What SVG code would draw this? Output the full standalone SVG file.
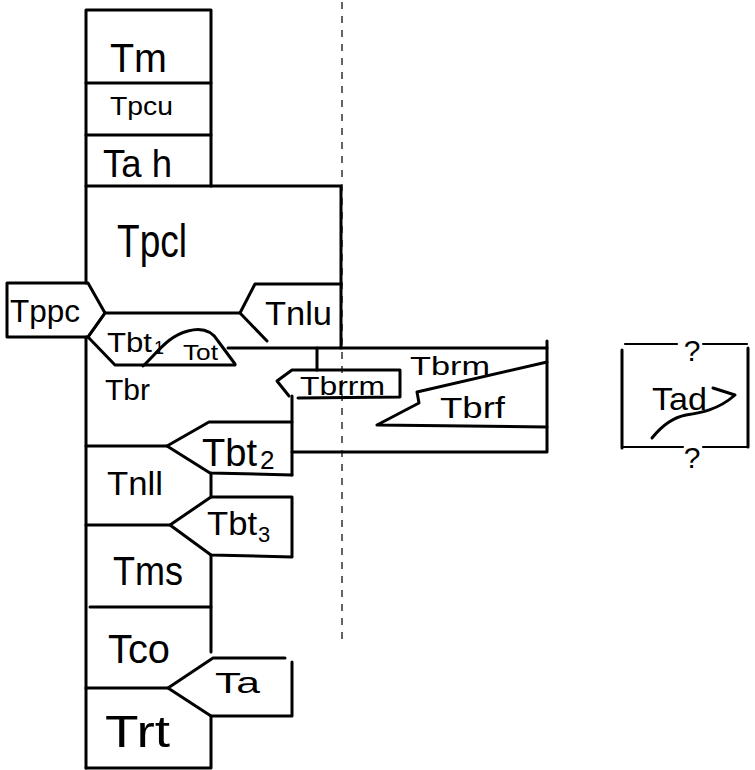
<svg xmlns="http://www.w3.org/2000/svg" width="755" height="770" viewBox="0 0 755 770">
<style>
.ln{fill:none;stroke:#000;stroke-width:3;stroke-linecap:round;stroke-linejoin:round}
.th{fill:none;stroke:#000;stroke-width:2.2;stroke-linecap:round;stroke-linejoin:round}
.dash{fill:none;stroke:#222;stroke-width:1.4;stroke-dasharray:7 7}
text{font-family:"Liberation Sans",Arial,sans-serif;fill:#000}
.q{font-size:30px;text-anchor:middle}
</style>
<rect width="755" height="770" fill="#fff"/>
<line class="dash" x1="342" y1="2" x2="342" y2="645"/>
<g id="Tm">
<polyline class="ln" points="86,186 86,10 211,10 211,186"/>
<line class="ln" x1="86" y1="83" x2="211" y2="83"/>
<text x="110" y="72" font-size="40" textLength="57" lengthAdjust="spacingAndGlyphs">Tm</text>
</g>
<g id="Tpcu">
<line class="ln" x1="86" y1="135" x2="211" y2="135"/>
<text x="110" y="115" font-size="25" textLength="63" lengthAdjust="spacingAndGlyphs">Tpcu</text>
</g>
<g id="Tah">
<text x="103" y="177" font-size="38" textLength="69" lengthAdjust="spacingAndGlyphs">Ta h</text>
</g>
<g id="Tpcl">
<polyline class="ln" points="86,283 86,186 341,186 341,348"/>
<line class="ln" x1="105" y1="313" x2="240" y2="313"/>
<text x="117" y="257" font-size="46" textLength="70" lengthAdjust="spacingAndGlyphs">Tpcl</text>
</g>
<g id="Tppc">
<polygon class="ln" points="7,283 88,283 105,313 88,337 7,337"/>
<text x="10" y="322" font-size="31" textLength="70" lengthAdjust="spacingAndGlyphs">Tppc</text>
</g>
<g id="Tnlu">
<polyline class="ln" points="341,284 255,284 240,313 267,341"/>
<text x="265" y="325" font-size="33" textLength="67" lengthAdjust="spacingAndGlyphs">Tnlu</text>
</g>
<g id="Tbt1">
<polyline class="ln" points="105,313 88,337 115,365 235,365"/>
<text x="107" y="352" font-size="27" textLength="45" lengthAdjust="spacingAndGlyphs">Tbt</text>
<text x="154" y="354" font-size="18">1</text>
</g>
<g id="Tot">
<path class="ln" d="M143,366 C158,352 168,336 188,331 C203,327 212,331 218,341 L235,364"/>
<text x="183" y="360" font-size="22" textLength="35" lengthAdjust="spacingAndGlyphs">Tot</text>
</g>
<g id="Tbr">
<line class="ln" x1="86" y1="337" x2="86" y2="768"/>
<text x="105" y="400" font-size="29" textLength="45" lengthAdjust="spacingAndGlyphs">Tbr</text>
</g>
<g id="Tbrm">
<polyline class="ln" points="228,348 547,348 547,452 292,452"/>
<line class="ln" x1="547" y1="341" x2="547" y2="348"/>
<line class="ln" x1="317" y1="348" x2="317" y2="370"/>
<text x="410" y="375" font-size="26" textLength="80" lengthAdjust="spacingAndGlyphs">Tbrm</text>
</g>
<g id="Tbrrm">
<polyline class="ln" points="289,396 277,381 292,370 400,370 400,397 298,398"/>
<line class="ln" x1="292" y1="396" x2="292" y2="475"/>
<text x="300" y="395" font-size="26" textLength="85" lengthAdjust="spacingAndGlyphs">Tbrrm</text>
</g>
<g id="Tbrf">
<polyline class="ln" points="547,362 417,392 419,403 377,425 547,427"/>
<text x="440" y="418" font-size="29" textLength="65" lengthAdjust="spacingAndGlyphs">Tbrf</text>
</g>
<g id="Tbt2">
<polyline class="ln" points="292,422 209,422 167,446 210,473 292,475"/>
<line class="ln" x1="86" y1="446" x2="167" y2="446"/>
<text x="202" y="466" font-size="38" textLength="55" lengthAdjust="spacingAndGlyphs">Tbt</text>
<text x="260" y="469" font-size="26">2</text>
</g>
<g id="Tnll">
<line class="ln" x1="211" y1="473" x2="211" y2="497"/>
<text x="107" y="495" font-size="33" textLength="56" lengthAdjust="spacingAndGlyphs">Tnll</text>
</g>
<g id="Tbt3">
<polygon class="ln" points="211,497 292,497 292,557 211,555 170,525"/>
<line class="ln" x1="86" y1="525" x2="170" y2="525"/>
<text x="207" y="535" font-size="34" textLength="50" lengthAdjust="spacingAndGlyphs">Tbt</text>
<text x="258" y="542" font-size="22">3</text>
</g>
<g id="Tms">
<line class="ln" x1="211" y1="555" x2="211" y2="652"/>
<line class="ln" x1="90" y1="607" x2="211" y2="607"/>
<text x="113" y="585" font-size="40" textLength="70" lengthAdjust="spacingAndGlyphs">Tms</text>
</g>
<g id="Tco">
<text x="108" y="663" font-size="40" textLength="62" lengthAdjust="spacingAndGlyphs">Tco</text>
</g>
<g id="Ta">
<polyline class="ln" points="285,658 213,658 168,688 211,716 292,716 292,662"/>
<line class="ln" x1="86" y1="688" x2="168" y2="688"/>
<text x="215" y="693" font-size="30" textLength="45" lengthAdjust="spacingAndGlyphs">Ta</text>
</g>
<g id="Trt">
<polyline class="ln" points="211,716 211,768 86,768"/>
<text x="105" y="747" font-size="44" textLength="65" lengthAdjust="spacingAndGlyphs">Trt</text>
</g>
<g id="Tad">
<polyline class="th" points="625,344 677,344"/>
<polyline class="th" points="703,344 747,344"/>
<line class="ln" x1="622" y1="350" x2="622" y2="448"/>
<line class="ln" x1="748" y1="348" x2="748" y2="447"/>
<polyline class="th" points="622,447 683,447"/>
<polyline class="th" points="703,447 748,447"/>
<text class="q" x="692" y="361">?</text>
<text class="q" x="692" y="468">?</text>
<text x="652" y="410" font-size="32" textLength="55" lengthAdjust="spacingAndGlyphs">Tad</text>
<path class="ln" d="M713,388 L735,395 C718,410 700,413 686,415 C670,418 660,428 652,438"/>
</g>
</svg>
